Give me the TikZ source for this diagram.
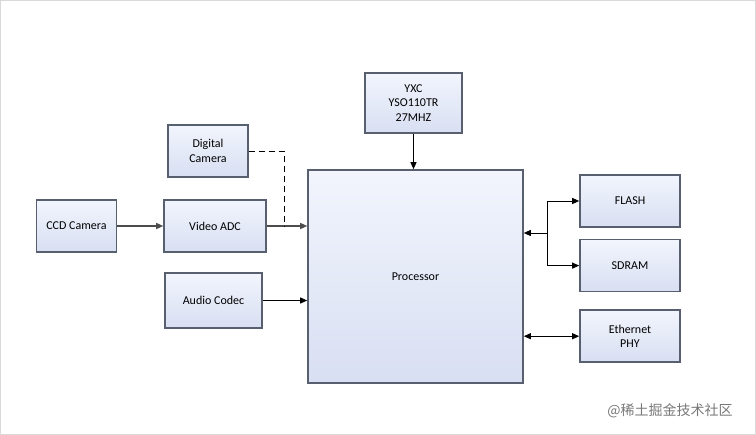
\documentclass[tikz,border=0pt]{standalone}
\usepackage{fontspec}
\setmainfont{Carlito}
\newfontfamily\cjk{Noto Sans CJK SC}
\usepackage{xcolor}
\usepackage{tikz}
\usetikzlibrary{arrows.meta, positioning, calc, shadows}
\definecolor{boxtop}{RGB}{242,245,253}
\definecolor{boxbot}{RGB}{216,223,242}
\definecolor{boxline}{RGB}{88,96,112}
\definecolor{wmgray}{RGB}{120,120,120}

\begin{document}
\begin{tikzpicture}[
    x=1pt, y=1pt,
    font=\fontsize{12}{14.5}\selectfont,
    box/.style={rectangle, draw=boxline, line width=1.6pt, top color=boxtop, bottom color=boxbot, align=center, inner sep=2pt,
        drop shadow={shadow xshift=0.9pt, shadow yshift=-0.9pt, opacity=0.7, fill=boxline}},
    arrow/.style={-{Triangle[length=7pt,width=6pt]}, line width=0.9pt},
    twoway/.style={{Triangle[length=7pt,width=6pt]}-{Triangle[length=7pt,width=6pt]}, line width=0.9pt}
]
\useasboundingbox (0,0) rectangle (756,-435);
\draw[black!15, line width=1pt] (0.5,-0.5) rectangle (755.5,-434.5);

\node[box, minimum width=215pt, minimum height=213pt] (proc) at (415.5,-276.5) {Processor};
\node[box, minimum width=97pt, minimum height=60pt] (xtal) at (413.5,-103) {YXC\\YSO110TR\\27MHZ};
\node[box, minimum width=102pt, minimum height=52pt] (adc) at (215,-226) {Video ADC};
\node[box, minimum width=80pt, minimum height=52pt, left=46pt of adc] (ccd) {CCD Camera};
\node[box, minimum width=80pt, minimum height=52pt] (dcam) at (208,-151) {Digital\\Camera};
\node[box, minimum width=97pt, minimum height=55pt] (audio) at (213.5,-300.5) {Audio Codec};
\node[box, minimum width=100pt, minimum height=52pt] (flash) at (630,-201) {FLASH};
\node[box, minimum width=100pt, minimum height=52pt, below=11pt of flash] (sdram) {SDRAM};
\node[box, minimum width=100pt, minimum height=52pt, below=17pt of sdram] (eth) {Ethernet\\PHY};

\coordinate (dashjoin) at (284,-226);
\coordinate (membus) at (547,-233);

\draw[arrow, line width=1.4pt, black!70] (ccd) -- (adc);
\draw[arrow, line width=1.4pt, black!70] (adc.east) -- (adc.east -| proc.west);
\draw[dashed, line width=0.9pt, dash pattern=on 6pt off 4pt] (dcam.east) -| (dashjoin);
\draw[arrow] (audio.east) -- (audio.east -| proc.west);
\draw[arrow] (xtal.south) -- (xtal.south |- proc.north);
\draw[arrow] (membus) -- (membus -| proc.east);
\draw[arrow] (membus) |- (flash.west);
\draw[arrow] (membus) |- (sdram.west);
\draw[twoway] (eth.west) -- (eth.west -| proc.east);

\node[text=wmgray, font=\cjk\fontsize{14}{16}\selectfont] (mark) at (670,-411) {@稀土掘金技术社区};
\end{tikzpicture}
\end{document}
